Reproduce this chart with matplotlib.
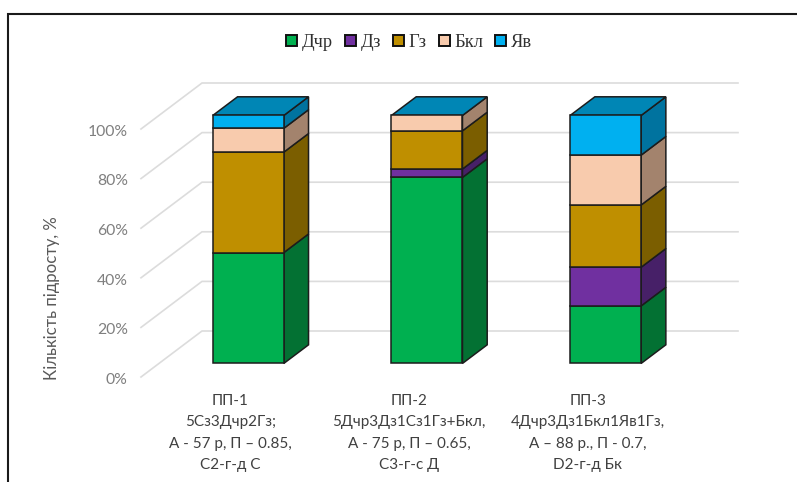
import matplotlib
matplotlib.use("Agg")
import matplotlib.pyplot as plt
from matplotlib.patches import Polygon, Patch
from matplotlib.lines import Line2D
from matplotlib.transforms import ScaledTranslation

W, H = 797, 482
categories = ["ПП-1\n5Сз3Дчр2Гз;\nА - 57 р, П – 0.85,\nС2-г-д С",
              "ПП-2\n5Дчр3Дз1Сз1Гз+Бкл,\nА - 75 р, П – 0.65,\nС3-г-с Д",
              "ПП-3\n4Дчр3Дз1Бкл1Яв1Гз,\nА – 88 р., П - 0.7,\nD2-г-д Бк"]
species = ["Дчр", "Дз", "Гз", "Бкл", "Яв"]
dchr = [44.7, 75.0, 23.2]
dz = [0.0, 3.4, 15.6]
gz = [40.5, 15.4, 25.1]
bkl = [9.6, 6.2, 20.1]
yav = [5.2, 0.0, 16.0]
series = [dchr, dz, gz, bkl, yav]
front_colors = ["#00b050", "#7030a0", "#bf8f00", "#f8cbad", "#00b0f0"]
side_colors = ["#037133", "#472068", "#7b5e00", "#a3836d", "#00739f"]
top_color = "#0086b5"
ticks = [0, 20, 40, 60, 80, 100]

fig = plt.figure(figsize=(W / 100, H / 100), dpi=100)
fig.patch.set_facecolor("white")
ax = fig.add_axes([141 / W, (H - 377) / H, 536 / W, 248 / H])
ax.set_xlim(-0.5, 2.5)
ax.set_ylim(0, 100)
ax.patch.set_visible(False)
for s in ax.spines.values():
    s.set_visible(False)

# oblique projection: depth 0 = front plane, depth 1 = back wall
DX = 61 * 3 / 536
DY = 46 * 100 / 248
BAR_W = 71 * 3 / 536
D0, D1 = 0.295, 0.70


def proj(x, y, d):
    return (x + d * DX, y + d * DY)


grid_c = "#dcdcdc"
for t in ticks:
    p0, p1 = proj(-0.5, t, 0), proj(-0.5, t, 1)
    p2 = proj(2.5, t, 1)
    ax.plot([p0[0], p1[0], p2[0]], [p0[1], p1[1], p2[1]], color=grid_c, lw=1.2,
            clip_on=False, zorder=1, solid_joinstyle="miter")

EDGE = "#1c1c1c"
for i in range(len(categories)):
    l, r = i - BAR_W / 2, i + BAR_W / 2
    base = 0.0
    for vals, fc, sc in zip(series, front_colors, side_colors):
        v = vals[i]
        if v <= 0:
            continue
        top = base + v
        ax.add_patch(Polygon([proj(r, base, D0), proj(r, base, D1), proj(r, top, D1), proj(r, top, D0)],
                             closed=True, fc=sc, ec=EDGE, lw=1.1, zorder=3, clip_on=False))
        ax.add_patch(Polygon([proj(l, base, D0), proj(r, base, D0), proj(r, top, D0), proj(l, top, D0)],
                             closed=True, fc=fc, ec=EDGE, lw=1.1, zorder=4, clip_on=False))
        base = top
    ax.add_patch(Polygon([proj(l, base, D0), proj(r, base, D0), proj(r, base, D1), proj(l, base, D1)],
                         closed=True, fc=top_color, ec=EDGE, lw=1.1, zorder=3, clip_on=False))

ax.set_xticks(range(len(categories)))
ax.set_xticklabels(categories, family="Lato", fontsize=11, color="#404040", linespacing=1.67)
ax.set_yticks(ticks)
ax.set_yticklabels([f"{t}%" for t in ticks], family="Lato", fontsize=11.3, color="#7f7f7f")
ax.tick_params(axis="x", length=0, pad=12.3)
ax.tick_params(axis="y", length=0, pad=9.5)
for lab in ax.get_yticklabels():
    lab.set_transform(lab.get_transform() + ScaledTranslation(0, -1 / 72, fig.dpi_scale_trans))

fig.text(51.5 / W, 1 - 298 / H, "Кількість підросту, %", rotation=90, ha="center", va="center",
         family="Lato", fontsize=12.1, color="#595959")

handles = [Patch(fc=c, ec="#111111", lw=1.4) for c in front_colors]
fig.legend(handles, species, loc="center", bbox_to_anchor=(409 / W, 1 - 42.5 / H), ncol=5, frameon=False,
           prop={"family": "Liberation Serif", "size": 13.3}, labelcolor="#303030",
           handlelength=0.6, handleheight=0.6, handletextpad=0.25, columnspacing=0.65)

fig.add_artist(Line2D([8 / W, 8 / W, 1], [0, 1 - 14 / H, 1 - 14 / H], color="#1a1a1a", lw=1.5,
                      solid_joinstyle="miter"))
fig.savefig("out.png", dpi=100)
